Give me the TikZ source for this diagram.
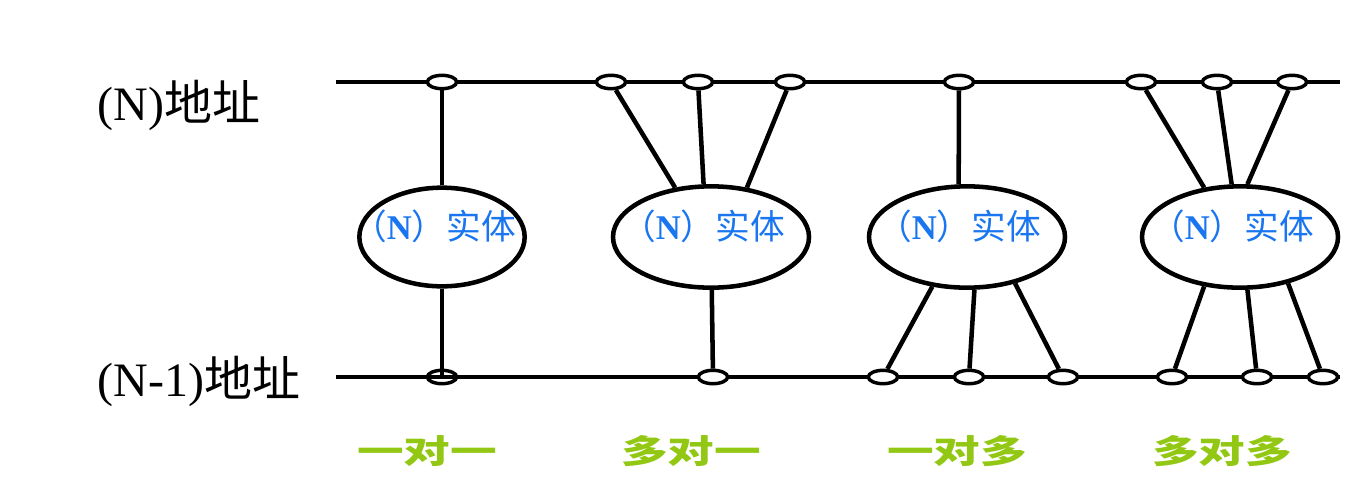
\documentclass[tikz,border=0pt]{standalone}
\usepackage{fontspec}
\usepackage{graphicx}
\setmainfont{Liberation Serif}
\newfontfamily\cjk{Noto Sans CJK SC}
\usetikzlibrary{shapes.geometric}
\definecolor{entblue}{RGB}{25,118,240}
\definecolor{relgreen}{RGB}{146,200,20}
\newcommand{\enttext}{\makebox[0pt]{\hspace*{-12pt}（{\rmfamily\bfseries N}）实体}}

\begin{document}
\begin{tikzpicture}[x=0.75pt,y=-0.75pt,
    line/.style={line width=3.4pt},
    sap/.style={draw,ellipse,fill=white,line width=2.6pt,minimum width=22pt,minimum height=10pt,inner sep=0pt},
    entity/.style={draw,ellipse,line width=3.4pt,minimum width=147pt,minimum height=76pt,inner sep=0pt,
      text=entblue,font=\cjk\fontsize{26}{26}\selectfont,text height=22pt,text depth=18pt},
    layer/.style={anchor=base west,font=\fontsize{36}{36}\selectfont},
    kind/.style={text=relgreen,font=\cjk\bfseries\fontsize{35}{35}\selectfont}]
    \useasboundingbox (0,0) rectangle (1362,487);
    \coordinate (nl) at (336,82);
    \coordinate (nr) at (1340,82);
    \coordinate (ml) at (336,377);
    \coordinate (mr) at (1340,377);
    \draw[line] (nl) -- (nr);
    \draw[line] (ml) -- (mr);

    \node[layer] (naddr) at (93,120) {(N)\cjk 地址};
    \node[layer] (maddr) at (93,396) {(N-1)\cjk 地址};

    \node[entity,minimum width=124pt,minimum height=74pt] (e1) at (442,237) {\enttext};
    \node[entity] (e2) at (711,237) {\enttext};
    \node[entity] (e3) at (967,237) {\enttext};
    \node[entity] (e4) at (1240,237) {\enttext};

    \foreach \n/\x in {t1/442,t2a/611,t2b/698,t2c/790,t3/959,t4a/1141,t4b/1217,t4c/1292}
      \node[sap] (\n) at (\x,82) {};
    \node[sap,fill=none] (b1) at (442,377) {};
    \foreach \n/\x in {b2/713,b3a/883,b3b/969,b3c/1063,b4a/1172,b4b/1257,b4c/1323}
      \node[sap] (\n) at (\x,377) {};

    \draw[line] (t1) -- (e1);
    \draw[line] (e1) -- (b1.center);
    \draw[line] (t2a) -- (e2.126);
    \draw[line] (t2b) -- (e2.98);
    \draw[line] (t2c) -- (e2.54);
    \draw[line] (e2) -- (b2);
    \draw[line] (t3) -- (e3.99);
    \draw[line] (e3.235) -- (b3a);
    \draw[line] (e3.278) -- (b3b);
    \draw[line] (e3.316) -- (b3c);
    \draw[line] (t4a) -- (e4.126);
    \draw[line] (t4b) -- (e4.99);
    \draw[line] (t4c) -- (e4.82);
    \draw[line] (e4.234) -- (b4a);
    \draw[line] (e4.278) -- (b4b);
    \draw[line] (e4.316) -- (b4c);

    \node[kind] (k1) at (427,451) {\scalebox{1}[0.7]{一对一}};
    \node[kind] (k2) at (691,451) {\scalebox{1}[0.7]{多对一}};
    \node[kind] (k3) at (957,451) {\scalebox{1}[0.7]{一对多}};
    \node[kind] (k4) at (1222,451) {\scalebox{1}[0.7]{多对多}};
\end{tikzpicture}
\end{document}
